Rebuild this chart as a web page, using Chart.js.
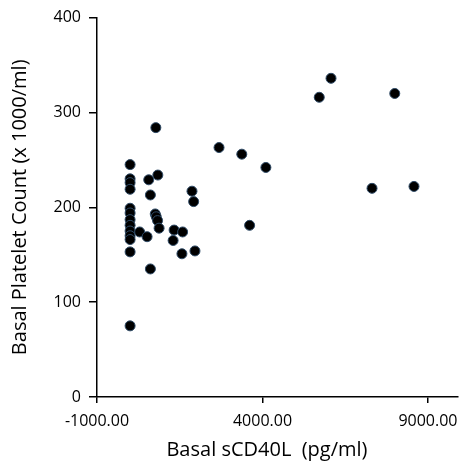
<!DOCTYPE html>
<html>
<head>
<meta charset="utf-8">
<script src="https://cdn.jsdelivr.net/npm/chart.js@4"></script>
<style>
  html, body { margin: 0; padding: 0; background: #fff; }
  #wrap { width: 467px; height: 465px; }
</style>
</head>
<body>
<div id="wrap"><canvas id="c" width="467" height="465"></canvas></div>
<script>
// Basal sCD40L (pg/ml)
const sCD40L = [
  0, 0, 0, 0, 0, 0, 0, 0, 0, 0, 0, 0, 0,
  563, 838, 613, 1870, 1920, 289, 513, 760, 790, 830, 876,
  1330, 1587, 1300, 1566, 1960, 613, 778,
  6071, 5715, 7997, 2687, 3375, 4103, 7310, 8578, 3611
];
// Basal platelet count (x 1000/ml)
const plateletCount = [
  245, 230, 226, 219, 199, 194, 187, 181, 175, 170, 166, 153, 75,
  229, 234, 213, 217, 206, 174, 169, 193, 190, 186, 178,
  176, 174, 165, 151, 154, 135, 284,
  336, 316, 320, 263, 256, 242, 220, 222, 181
];
const xTicks = [-1000, 4000, 9000];
const yTicks = [0, 100, 200, 300, 400];

const points = sCD40L.map((x, i) => ({ x: x, y: plateletCount[i] }));
const FONT = "'Open Sans', 'Liberation Sans', sans-serif";

new Chart(document.getElementById('c'), {
  type: 'scatter',
  data: {
    datasets: [{
      data: points,
      backgroundColor: '#000000',
      borderColor: '#2e4a66',
      borderWidth: 1,
      pointRadius: 5,
      pointHoverRadius: 5
    }]
  },
  options: {
    responsive: false,
    animation: false,
    layout: { padding: { top: 15, right: 0, bottom: 0, left: 0 } },
    plugins: { legend: { display: false }, tooltip: { enabled: false } },
    scales: {
      x: {
        type: 'linear',
        min: -1000,
        max: 9900,
        afterBuildTicks: (s) => { s.ticks = xTicks.map(v => ({ value: v })); },
        afterFit: (s) => { s.height = 68; },
        ticks: {
          color: '#000',
          font: { family: FONT, size: 16 },
          padding: 9,
          maxRotation: 0,
          autoSkip: false,
          callback: (v) => Number(v).toFixed(2)
        },
        grid: { display: true, drawOnChartArea: false, drawTicks: true, tickLength: 6, color: '#000', lineWidth: 1.5 },
        border: { display: true, color: '#000', width: 1.5 },
        title: {
          display: true,
          text: 'Basal sCD40L  (pg/ml)    ',
          color: '#000',
          font: { family: FONT, size: 20 },
          padding: { top: 0, bottom: 3 }
        }
      },
      y: {
        type: 'linear',
        min: 0,
        max: 400,
        afterBuildTicks: (s) => { s.ticks = yTicks.map(v => ({ value: v })); },
        afterFit: (s) => { s.width = 97; },
        ticks: {
          color: '#000',
          font: { family: FONT, size: 16 },
          padding: 8,
          autoSkip: false
        },
        grid: { display: true, drawOnChartArea: false, drawTicks: true, tickLength: 8, color: '#000', lineWidth: 1.5 },
        border: { display: true, color: '#000', width: 1.5 },
        title: {
          display: true,
          text: 'Basal Platelet Count (x 1000/ml)',
          color: '#000',
          font: { family: FONT, size: 20 },
          padding: { top: 8, bottom: 0 }
        }
      }
    }
  }
});
</script>
</body>
</html>
